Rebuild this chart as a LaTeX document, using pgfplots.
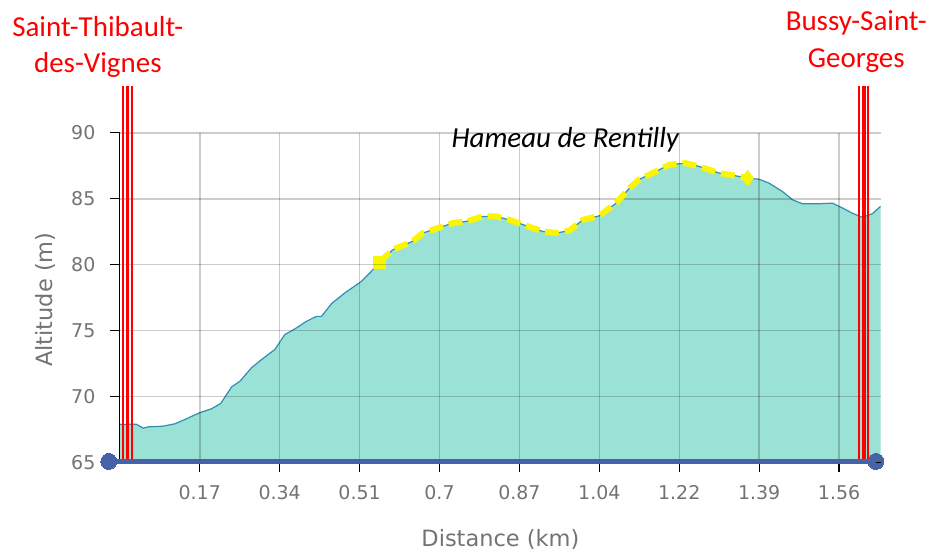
\documentclass[border=0pt]{standalone}
\usepackage{pgfplots}
\pgfplotsset{compat=1.18}
\usepackage{pgfplotstable}
\usepackage{fontspec}
\setmainfont{DejaVu Sans}
\newfontfamily\calfont{Carlito}
\definecolor{fillc}{RGB}{155,226,214}
\definecolor{linec}{RGB}{52,140,178}
\definecolor{txtgray}{RGB}{115,115,115}
\definecolor{routeblue}{RGB}{72,98,168}
\definecolor{yel}{RGB}{250,245,0}
\pgfplotstableread{
x alt
0.000 67.90
0.004 67.88
0.036 67.90
0.051 67.60
0.062 67.70
0.094 67.75
0.120 67.93
0.142 68.26
0.174 68.77
0.200 69.07
0.220 69.47
0.244 70.73
0.262 71.16
0.287 72.17
0.309 72.80
0.338 73.56
0.360 74.70
0.382 75.13
0.407 75.70
0.429 76.08
0.440 76.08
0.462 77.05
0.491 77.86
0.527 78.73
0.556 79.75
0.567 80.20
0.596 81.14
0.639 81.77
0.661 82.40
0.690 82.73
0.727 83.16
0.756 83.28
0.792 83.66
0.821 83.66
0.850 83.40
0.887 82.95
0.923 82.52
0.952 82.40
0.981 82.58
1.010 83.40
1.046 83.70
1.083 84.67
1.112 85.80
1.134 86.48
1.163 86.95
1.199 87.58
1.235 87.70
1.264 87.45
1.308 86.95
1.344 86.74
1.370 86.57
1.395 86.48
1.417 86.18
1.446 85.55
1.468 84.92
1.490 84.62
1.526 84.62
1.555 84.67
1.577 84.30
1.599 83.90
1.620 83.60
1.642 83.86
1.660 84.42
}\profile
\pgfplotstableread{
x alt
0.567 80.20
0.596 81.14
0.639 81.77
0.661 82.40
0.690 82.73
0.727 83.16
0.756 83.28
0.792 83.66
0.821 83.66
0.850 83.40
0.887 82.95
0.923 82.52
0.952 82.40
0.981 82.58
1.010 83.40
1.046 83.70
1.083 84.67
1.112 85.80
1.134 86.48
1.163 86.95
1.199 87.58
1.235 87.70
1.264 87.45
1.308 86.95
1.344 86.74
1.370 86.57
}\highlight
\begin{document}
\begin{tikzpicture}
\begin{axis}[
  set layers,
  axis on top,
  scale only axis,
  width=762pt, height=330pt,
  at={(0pt,0pt)}, anchor=south west,
  xmin=0, xmax=1.661,
  ymin=65, ymax=90,
  clip=false,
  axis x line=bottom, axis y line=left,
  axis line style={-, black, line width=1.2pt},
  xtick={0.1744,0.3488,0.5232,0.6976,0.872,1.0464,1.2208,1.3952,1.5696},
  xticklabels={0.17,0.34,0.51,0.7,0.87,1.04,1.22,1.39,1.56},
  ytick={65,70,75,80,85,90},
  tick align=outside,
  major tick length=10pt,
  tick style={black, line width=1.2pt},
  grid=major,
  grid style={black, opacity=0.2, line width=1.5pt},
  /pgf/number format/assume math mode=true,
  tick label style={font=\fontsize{19}{22}\selectfont, text=txtgray},
  xticklabel style={yshift=-9pt},
  yticklabel style={xshift=-11pt},
  xlabel={Distance (km)},
  ylabel={Altitude (m)},
  label style={font=\fontsize{22.5}{26}\selectfont, text=txtgray},
  xlabel style={at={(axis description cs:0.5,-0.233)}, anchor=center},
  ylabel style={at={(axis description cs:-0.098,0.494)}, anchor=center, rotate=0},
]
\addplot[fill=fillc, draw=none] table[x=x,y=alt] {\profile} \closedcycle;
\addplot[linec, line width=1.2pt] table[x=x,y=alt] {\profile};
% highlighted segment
\addplot[on layer=axis foreground, yel, line width=6pt, dash pattern=on 14pt off 6pt] table[x=x,y=alt] {\highlight};
\addplot[on layer=axis foreground, only marks, mark=square*, mark size=6pt, color=yel] coordinates {(0.567,80.20)};
\addplot[on layer=axis foreground, only marks, mark=diamond*, mark size=8pt, color=yel] coordinates {(1.370,86.57)};
% town markers
\addplot[on layer=axis foreground, red, line width=2pt] coordinates {(0.0072,65) (0.0072,93.56)};
\addplot[on layer=axis foreground, red, line width=3pt] coordinates {(0.0168,65) (0.0168,93.56)};
\addplot[on layer=axis foreground, red, line width=1.6pt] coordinates {(0.0262,65) (0.0262,93.56)};
\addplot[on layer=axis foreground, red, line width=2pt] coordinates {(1.6132,65) (1.6132,93.56)};
\addplot[on layer=axis foreground, red, line width=4pt] coordinates {(1.6241,65) (1.6241,93.56)};
\addplot[on layer=axis foreground, red, line width=2pt] coordinates {(1.6335,65) (1.6335,93.56)};
% route baseline
\addplot[on layer=axis foreground, routeblue, line width=5pt, mark=*, mark size=8pt, mark options={fill=routeblue, draw=routeblue, line width=0pt}] coordinates {(-0.024,65.08) (1.650,65.08)};
% labels
\node[anchor=base, red, font=\calfont\fontsize{29}{32}\selectfont] at (axis cs:-0.048,97.27) {Saint-Thibault-};
\node[anchor=base, red, font=\calfont\fontsize{29}{32}\selectfont] at (axis cs:-0.048,94.55) {des-Vignes};
\node[anchor=base, red, font=\calfont\fontsize{29}{32}\selectfont] at (axis cs:1.607,97.73) {Bussy-Saint-};
\node[anchor=base, red, font=\calfont\fontsize{29}{32}\selectfont] at (axis cs:1.607,94.92) {Georges};
\node[anchor=base, black, font=\calfont\itshape\fontsize{29}{32}\selectfont] at (axis cs:0.972,88.92) {Hameau de Rentilly};
\end{axis}
\path (-120pt,-89pt) rectangle (810pt,463pt);
\end{tikzpicture}
\end{document}
